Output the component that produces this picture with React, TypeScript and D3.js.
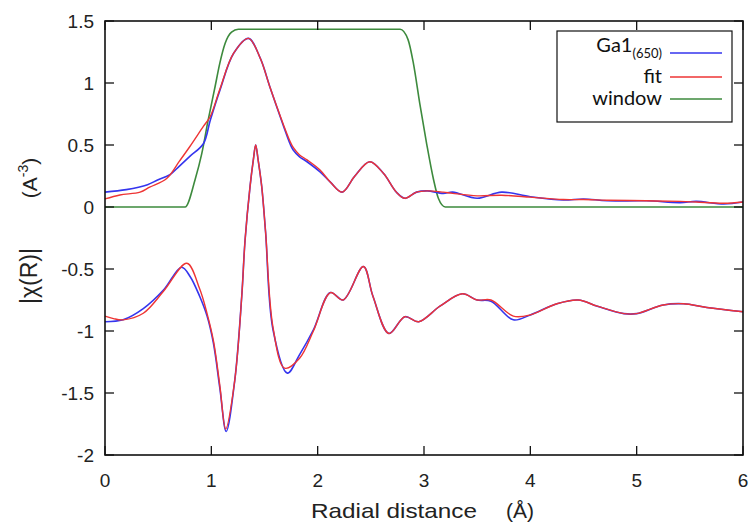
import React from "react";
import * as d3 from "d3";

// ---- data ----
const magBlueR = [0, 0.2, 0.4, 0.5, 0.61, 0.7, 0.8, 0.925, 0.99, 1.08, 1.21, 1.35, 1.46, 1.55, 1.68, 1.74, 1.77, 1.83, 1.9, 2.02, 2.12, 2.23, 2.35, 2.49, 2.62, 2.74, 2.82, 2.93, 3.03, 3.18, 3.27, 3.5, 3.73, 4.0, 4.31, 4.5, 4.72, 5.09, 5.41, 5.56, 5.82, 6.0];
const magBlueV = [0.12, 0.14, 0.18, 0.22, 0.26, 0.33, 0.41, 0.51, 0.7, 0.94, 1.24, 1.36, 1.2, 0.97, 0.65, 0.51, 0.46, 0.405, 0.365, 0.285, 0.2, 0.12, 0.25, 0.365, 0.27, 0.12, 0.07, 0.12, 0.13, 0.11, 0.12, 0.07, 0.12, 0.083, 0.056, 0.065, 0.05, 0.05, 0.035, 0.045, 0.024, 0.04];

const magRedR = [0, 0.14, 0.33, 0.42, 0.58, 0.7, 0.8, 0.925, 0.99, 1.08, 1.21, 1.35, 1.46, 1.55, 1.68, 1.74, 1.77, 1.83, 1.9, 2.02, 2.12, 2.23, 2.35, 2.49, 2.62, 2.74, 2.82, 2.93, 3.03, 3.18, 3.27, 3.5, 3.73, 4.0, 4.31, 4.5, 4.72, 5.09, 5.41, 5.56, 5.82, 6.0];
const magRedV = [0.065, 0.097, 0.12, 0.16, 0.23, 0.37, 0.49, 0.65, 0.73, 0.95, 1.24, 1.36, 1.2, 0.97, 0.66, 0.53, 0.48, 0.42, 0.38, 0.3, 0.2, 0.12, 0.25, 0.365, 0.27, 0.12, 0.07, 0.12, 0.13, 0.12, 0.11, 0.09, 0.095, 0.08, 0.06, 0.06, 0.055, 0.05, 0.045, 0.04, 0.03, 0.04];

const winR = [0, 0.753, 0.847, 0.91, 0.97, 1.035, 1.08, 1.13, 1.19, 1.254, 2.775, 2.85, 2.9, 2.96, 3.025, 3.09, 3.135, 3.2, 6.0];
const winV = [0, 0, 0.22, 0.43, 0.7, 0.97, 1.16, 1.32, 1.41, 1.433, 1.433, 1.35, 1.16, 0.836, 0.51, 0.22, 0.07, 0, 0];

const reBlueR = [0, 0.17, 0.36, 0.55, 0.72, 0.8, 0.89, 0.96, 1.02, 1.08, 1.14, 1.22, 1.286, 1.317, 1.364, 1.395, 1.417, 1.44, 1.474, 1.51, 1.58, 1.715, 1.83, 1.96, 2.12, 2.24, 2.43, 2.52, 2.67, 2.82, 2.95, 3.15, 3.36, 3.5, 3.63, 3.84, 4.0, 4.25, 4.45, 4.63, 4.88, 5.0, 5.25, 5.44, 5.66, 6.0];
const reBlueV = [-0.925, -0.91, -0.82, -0.67, -0.486, -0.56, -0.72, -0.88, -1.1, -1.46, -1.81, -1.4, -0.72, -0.27, 0.164, 0.38, 0.5, 0.38, 0.164, -0.2, -0.99, -1.34, -1.19, -0.99, -0.69, -0.75, -0.48, -0.72, -1.02, -0.885, -0.925, -0.8, -0.7, -0.75, -0.76, -0.91, -0.87, -0.78, -0.75, -0.8, -0.86, -0.86, -0.79, -0.78, -0.81, -0.845];

const reRedR = [0, 0.08, 0.17, 0.36, 0.55, 0.77, 0.89, 0.96, 1.02, 1.08, 1.135, 1.22, 1.286, 1.317, 1.364, 1.395, 1.417, 1.44, 1.474, 1.51, 1.58, 1.69, 1.83, 1.96, 2.12, 2.24, 2.43, 2.52, 2.67, 2.82, 2.95, 3.15, 3.36, 3.5, 3.63, 3.84, 4.0, 4.25, 4.45, 4.63, 4.88, 5.0, 5.25, 5.44, 5.66, 6.0];
const reRedV = [-0.88, -0.9, -0.91, -0.857, -0.68, -0.454, -0.66, -0.86, -1.08, -1.44, -1.79, -1.4, -0.72, -0.27, 0.164, 0.38, 0.5, 0.38, 0.164, -0.2, -0.97, -1.3, -1.22, -1.0, -0.69, -0.75, -0.48, -0.72, -1.02, -0.885, -0.925, -0.8, -0.7, -0.75, -0.75, -0.88, -0.87, -0.78, -0.75, -0.8, -0.86, -0.86, -0.79, -0.78, -0.81, -0.845];

const xTicks = [0, 1, 2, 3, 4, 5, 6];
const yTicks = [-2, -1.5, -1, -0.5, 0, 0.5, 1, 1.5];
const legendLabels = ["Ga1", "fit", "window"];

const BLUE = "#3535ee";
const RED = "#ee3434";
const GREEN = "#3d8a3d";

const L = 105, T = 21, R = 743, B = 455;

export default function App() {
  const x = d3.scaleLinear().domain([0, 6]).range([L, R]);
  const y = d3.scaleLinear().domain([-2, 1.5]).range([B, T]);
  const smooth = d3
    .line<[number, number]>()
    .x((d) => x(d[0]))
    .y((d) => y(d[1]))
    .curve(d3.curveCatmullRom.alpha(0.5));
  const mono = d3
    .line<[number, number]>()
    .x((d) => x(d[0]))
    .y((d) => y(d[1]))
    .curve(d3.curveMonotoneX);
  const pts = (r: number[], v: number[]) => r.map((d, i) => [d, v[i]] as [number, number]);

  const font = "'Liberation Sans', Arial, sans-serif";
  const legFont = "Lato, 'Open Sans', sans-serif";
  const tick = 9;
  const legY = [53, 77, 99];
  const legColors = [BLUE, RED, GREEN];

  return (
    <svg width={753} height={524} style={{ position: "absolute", left: 0, top: 0 }} fontFamily={font}>
      <rect x={0} y={0} width={753} height={524} fill="#fff" />
      {/* curves */}
      <path d={mono(pts(winR, winV)) || ""} fill="none" stroke={GREEN} strokeWidth={1.6} />
      <path d={smooth(pts(magBlueR, magBlueV)) || ""} fill="none" stroke={BLUE} strokeWidth={1.6} />
      <path d={smooth(pts(magRedR, magRedV)) || ""} fill="none" stroke={RED} strokeWidth={1.4} />
      <path d={smooth(pts(reBlueR, reBlueV)) || ""} fill="none" stroke={BLUE} strokeWidth={1.6} />
      <path d={smooth(pts(reRedR, reRedV)) || ""} fill="none" stroke={RED} strokeWidth={1.4} />

      {/* frame */}
      <rect x={L} y={T} width={R - L} height={B - T} fill="none" stroke="#111" strokeWidth={1.6} />
      {xTicks.map((t) => (
        <g key={"xt" + t}>
          <line x1={x(t)} x2={x(t)} y1={B} y2={B - tick} stroke="#111" strokeWidth={1.3} />
          <line x1={x(t)} x2={x(t)} y1={T} y2={T + tick} stroke="#111" strokeWidth={1.3} />
          <text x={x(t)} y={487} textAnchor="middle" fontSize={19} fill="#222">{t}</text>
        </g>
      ))}
      {yTicks.map((t) => (
        <g key={"yt" + t}>
          <line x1={L} x2={L + tick} y1={y(t)} y2={y(t)} stroke="#111" strokeWidth={1.3} />
          <line x1={R} x2={R - tick} y1={y(t)} y2={y(t)} stroke="#111" strokeWidth={1.3} />
          <text x={94} y={y(t) + 7} textAnchor="end" fontSize={19} fill="#222">{t}</text>
        </g>
      ))}

      {/* axis titles */}
      <text x={311} y={518} fontSize={21} fill="#222" textLength={166} lengthAdjust="spacingAndGlyphs">Radial distance</text>
      <text x={506} y={518} fontSize={21} fill="#222">(Å)</text>
      <text transform="translate(37,276) rotate(-90)" textAnchor="middle" fontSize={23} fill="#222">|χ(R)|</text>
      <text transform="translate(37,178) rotate(-90)" textAnchor="middle" fontSize={21} fill="#222">
        (A<tspan dy={-9} fontSize={14}>-3</tspan><tspan dy={9}>)</tspan>
      </text>

      {/* legend */}
      <rect x={557} y={31} width={175} height={91} fill="#fff" stroke="#111" strokeWidth={1.2} />
      {legendLabels.map((lab, i) => (
        <g key={lab}>
          <line x1={670} x2={722} y1={legY[i]} y2={legY[i]} stroke={legColors[i]} strokeWidth={1.6} />
          {i === 0 ? (
            <text x={662} y={legY[i] - 1} textAnchor="end" fontSize={20} fill="#111" fontFamily={legFont}>
              {lab}
              <tspan dy={6} fontSize={13}>(650)</tspan>
            </text>
          ) : (
            <text x={662} y={legY[i] + 6} textAnchor="end" fontSize={20} fill="#111" fontFamily={legFont}>
              {lab}
            </text>
          )}
        </g>
      ))}
    </svg>
  );
}
